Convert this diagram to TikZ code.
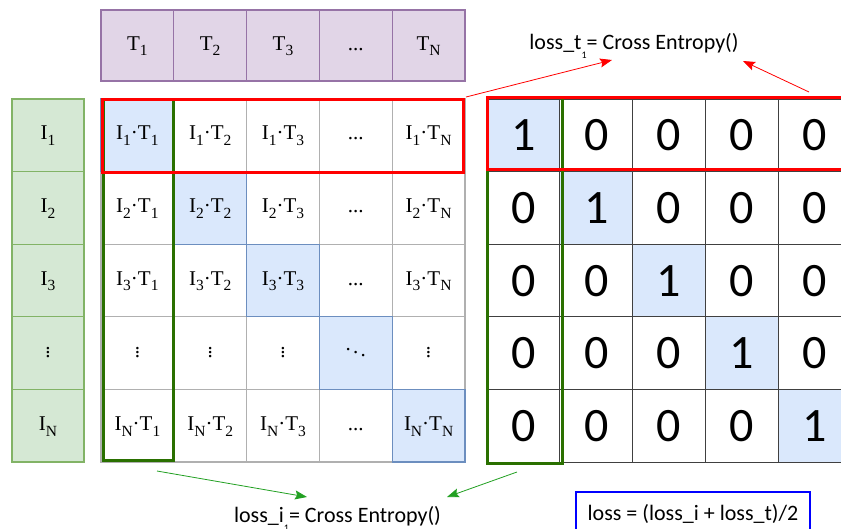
\documentclass[tikz,border=0pt]{standalone}
\usepackage{fontspec}
\setmainfont{Liberation Serif}
\newfontfamily\calib{Carlito}
\usetikzlibrary{arrows.meta}
\definecolor{tfill}{HTML}{E1D5E7}
\definecolor{tdraw}{HTML}{9673A6}
\definecolor{ifill}{HTML}{D5E8D4}
\definecolor{idraw}{HTML}{82B366}
\definecolor{bfill}{HTML}{DAE8FC}
\definecolor{bdraw}{HTML}{6C8EBF}
\definecolor{gridc}{HTML}{B0B0B0}
\definecolor{rgrid}{HTML}{404040}
\definecolor{gbox}{HTML}{2A7000}
\definecolor{garr}{HTML}{22A022}
\newcommand\sbx[1]{\raisebox{-0.28em}{\fontsize{15.5}{15.5}\selectfont #1}}
\newcommand\sbl[1]{\raisebox{-0.45em}{\fontsize{10}{10}\selectfont #1}}
\begin{document}
\begin{tikzpicture}[x=1pt,y=-1pt,
  cellbase/.style={inner sep=0pt, minimum width=72.8pt, minimum height=72.6pt,
    font=\fontsize{21}{25}\selectfont, text height=14pt, text depth=5pt},
  tcell/.style={cellbase, draw=tdraw, fill=tfill, line width=1.2pt, minimum height=71pt},
  icell/.style={cellbase, draw=idraw, fill=ifill, line width=1.2pt, minimum width=72pt},
  lcell/.style={cellbase, draw=gridc, fill=white, line width=1.3pt},
  bcell/.style={cellbase, draw=bdraw, fill=bfill, line width=1.3pt},
  rcell/.style={inner sep=0pt, minimum width=72.8pt, minimum height=72.6pt, draw=rgrid, line width=0.8pt,
    font=\calib\fontsize{48}{52}\selectfont, text height=31pt, text depth=0pt},
  redbox/.style={draw=red, line width=3pt, inner sep=0pt},
  greenbox/.style={draw=gbox, line width=3pt, inner sep=0pt},
  lab/.style={font=\calib\fontsize{22}{26}\selectfont, inner sep=0pt},
  arr/.style={line width=0.8pt, -{Stealth[length=12pt,width=9pt,inset=2pt]}}]
\useasboundingbox (0,0) rectangle (841,528);
\clip (0,0) rectangle (841,528);
% header T
\foreach \j/\cj in {1/\sbx{1},2/\sbx{2},3/\sbx{3},4/x,5/\sbx{N}} {
  \ifnum\j=4
    \node[tcell] (t\j) at ({101+72.8*(\j-0.5)},45.5) {...};
  \else
    \node[tcell] (t\j) at ({101+72.8*(\j-0.5)},45.5) {T\cj};
  \fi
}
% I column
\foreach \i/\ri in {1/\sbx{1},2/\sbx{2},3/\sbx{3},4/x,5/\sbx{N}} {
  \ifnum\i=4
    \node[icell] (i\i) at (48,{99+72.6*(\i-0.5)}) {$\vdots$};
  \else
    \node[icell] (i\i) at (48,{99+72.6*(\i-0.5)}) {I\ri};
  \fi
}
% left matrix, off-diagonal
\foreach \i/\ri in {1/\sbx{1},2/\sbx{2},3/\sbx{3},4/x,5/\sbx{N}} {
  \foreach \j/\cj in {1/\sbx{1},2/\sbx{2},3/\sbx{3},4/x,5/\sbx{N}} {
    \ifnum\i=\j\else
      \ifnum\i=4
        \node[lcell] (m\i\j) at ({101+72.8*(\j-0.5)},{99+72.6*(\i-0.5)}) {$\vdots$};
      \else\ifnum\j=4
        \node[lcell] (m\i\j) at ({101+72.8*(\j-0.5)},{99+72.6*(\i-0.5)}) {...};
      \else
        \node[lcell] (m\i\j) at ({101+72.8*(\j-0.5)},{99+72.6*(\i-0.5)}) {I\ri·T\cj};
      \fi\fi
    \fi
  }
}
% left matrix, diagonal
\foreach \i/\ri in {1/\sbx{1},2/\sbx{2},3/\sbx{3},4/x,5/\sbx{N}} {
  \ifnum\i=4
    \node[bcell] (m\i\i) at ({101+72.8*(\i-0.5)},{99+72.6*(\i-0.5)}) {$\ddots$};
  \else
    \node[bcell] (m\i\i) at ({101+72.8*(\i-0.5)},{99+72.6*(\i-0.5)}) {I\ri·T\ri};
  \fi
}
% right matrix
\foreach \i in {1,...,5} {
  \foreach \j in {1,...,5} {
    \ifnum\i=\j
      \node[rcell, fill=bfill] (r\i\j) at ({487+72.8*(\j-0.5)},{99+72.6*(\i-0.5)}) {1};
    \else
      \node[rcell, fill=white] (r\i\j) at ({487+72.8*(\j-0.5)},{99+72.6*(\i-0.5)}) {0};
    \fi
  }
}
% highlight boxes
\node[greenbox, minimum width=70pt, minimum height=361pt] (greenL) at (138,279.5) {};
\node[redbox, minimum width=361pt, minimum height=73pt] (redL) at (282.5,135.5) {};
\node[greenbox, minimum width=75pt, minimum height=366pt] (greenR) at (524.5,280) {};
\node[redbox, minimum width=363pt, minimum height=72pt] (redR) at (668.5,133) {};
% labels
\node[lab, anchor=base] (losst) at (634,49) {loss\_t\sbl{1}= Cross Entropy()};
\node[lab, anchor=base] (lossi) at (337.5,522) {loss\_i\sbl{1}= Cross Entropy()};
\node[lab, draw=blue, line width=1.6pt, minimum width=234pt, inner ysep=11pt,
  text height=17pt, text depth=5pt, anchor=base] (total) at (693,520) {loss = (loss\_i + loss\_t)/2};
% connector points
\coordinate (ra1) at (466,97);
\coordinate (ra2) at (809,92);
\coordinate (ta1) at (612,60);
\coordinate (ta2) at (743,61);
\coordinate (ga1) at (157,471);
\coordinate (ga2) at (517,472);
\coordinate (ia1) at (307,497);
\coordinate (ia2) at (447,497);
\draw[arr, red] (ra1) -- (ta1);
\draw[arr, red] (ra2) -- (ta2);
\draw[arr, garr] (ga1) -- (ia1);
\draw[arr, garr] (ga2) -- (ia2);
\end{tikzpicture}
\end{document}
